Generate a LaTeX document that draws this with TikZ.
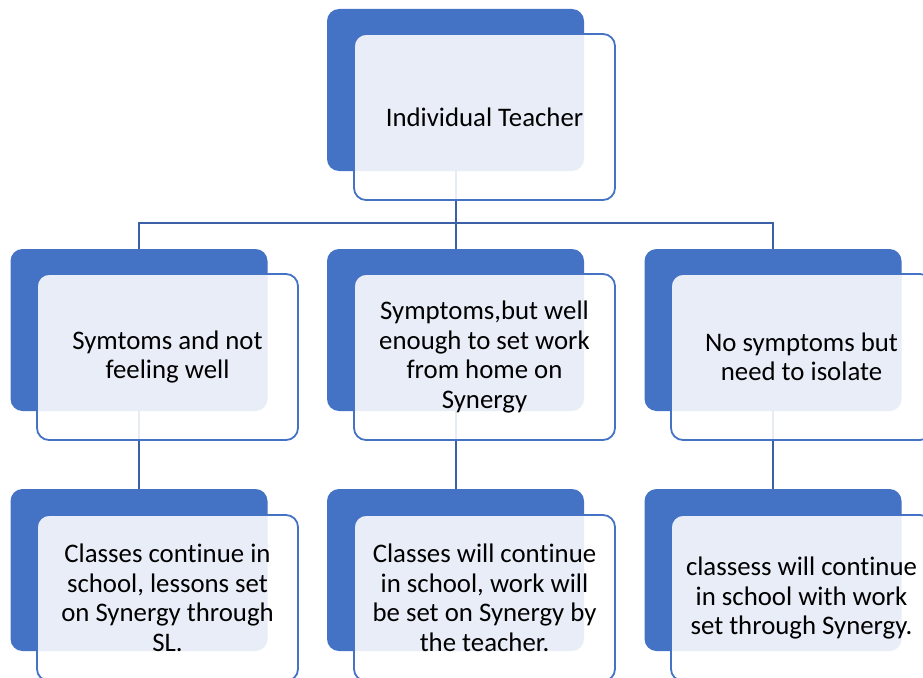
\documentclass[tikz,border=0pt]{standalone}
\usepackage{fontspec}
\setmainfont{Carlito}[Ligatures=CommonOff]
\definecolor{boxblue}{HTML}{4472C4}
\definecolor{linkblue}{HTML}{3C5FA6}

\begin{document}
\begin{tikzpicture}[x=1pt, y=-1pt,
	back/.style={fill=boxblue, rounded corners=12pt, minimum width=257pt, minimum height=162pt, inner sep=0pt},
	front/.style={draw=boxblue, line width=1.8pt, fill=white, fill opacity=0.88, text opacity=1,
		rounded corners=12pt, minimum width=261pt, minimum height=166pt, inner sep=0pt,
		align=center, font=\fontsize{26.8}{29.5}\selectfont},
	conn/.style={draw=linkblue, line width=2pt}]

\useasboundingbox (0,0) rectangle (923,677);
\clip (0,0) rectangle (923,677);

% back boxes
\node[back] (teacherback) at (455.5,90) {};
\node[back] (symback)     at (139,330) {};
\node[back] (wellback)    at (455.5,330) {};
\node[back] (isoback)     at (773,330) {};
\node[back] (slback)      at (139,570) {};
\node[back] (teachback)   at (455.5,570) {};
\node[back] (setback)     at (773,570) {};

% connectors
\coordinate (split) at (455.5,223);
\draw[conn] (teacherback.south) -- (split);
\draw[conn] (split) -| (symback.north);
\draw[conn] (split) -- (wellback.north);
\draw[conn] (split) -| (isoback.north);
\draw[conn] (symback.south) -- (slback.north);
\draw[conn] (wellback.south) -- (teachback.north);
\draw[conn] (isoback.south) -- (setback.north);

% front boxes
\node[front] (teacher) at (484.5,117) {Individual Teacher};
\node[front] (sym)     at (167.5,357) {Symtoms and not\\feeling well};
\node[front] (well)    at (484.5,357) {Symptoms,but well\\enough to set work\\from home on\\Synergy};
\node[front] (iso)     at (801.5,357) {No symptoms but\\need to isolate};
\node[front] (sl)      at (167.5,598) {Classes continue in\\school, lessons set\\on Synergy through\\SL.};
\node[front] (teach)   at (484.5,598) {Classes will continue\\in school, work will\\be set on Synergy by\\the teacher.};
\node[front] (set)     at (801.5,598) {classess will continue\\in school with work\\set through Synergy.};

\end{tikzpicture}
\end{document}
